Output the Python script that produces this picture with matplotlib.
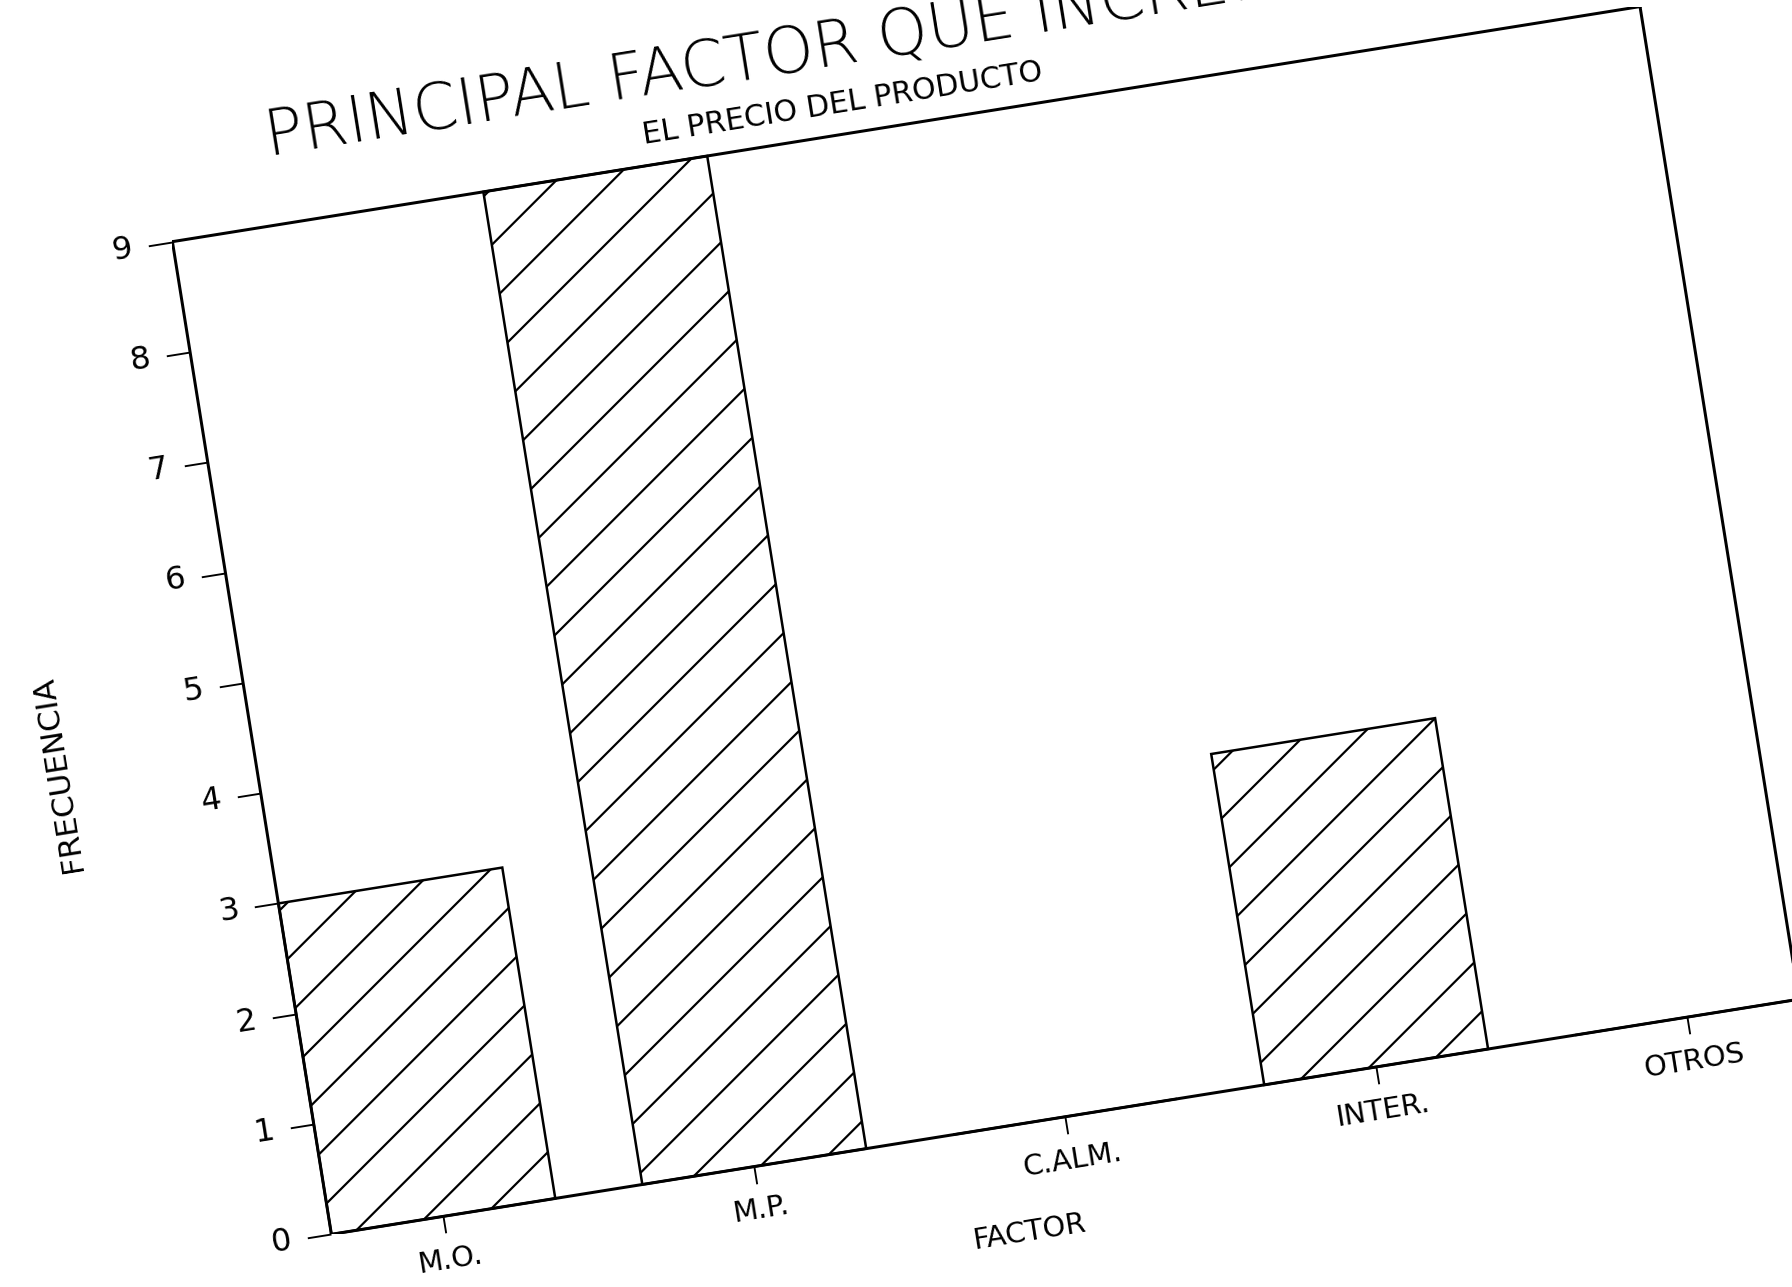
import matplotlib
matplotlib.use("Agg")
import matplotlib.pyplot as plt
from matplotlib.transforms import Affine2D
import mpl_toolkits.axisartist.floating_axes as floating_axes
from mpl_toolkits.axisartist.grid_finder import FixedLocator, DictFormatter

# ---------------- data ----------------
categories = ["M.O.", "M.P.", "C.ALM.", "INTER.", "OTROS"]
frecuencia = [3, 9, 0, 3, 0]
y_ticks = [0, 1, 2, 3, 4, 5, 6, 7, 8, 9]
title = "PRINCIPAL FACTOR QUE INCREMENTA"
subtitle = "EL PRECIO DEL PRODUCTO"
xlabel = "FACTOR"
ylabel = "FRECUENCIA"

# ---------------- geometry (pixels) ----------------
DPI = 170
W, H = 1792, 1287
PT = 72.0 / DPI          # points per pixel

ANGLE = 9.1              # scan rotation (deg, counter-clockwise)
SX, SY = 314.9, 111.7    # pixels per category / per unit
X0, X1 = -0.36, 4.36
Y0, Y1 = 0, 9
ORIGIN = (331.4, 52.7)   # pixel position of (X0, Y0) from bottom-left

plt.rcParams['font.family'] = ['DejaVu Sans']
plt.rcParams['hatch.linewidth'] = 2.2 * PT
plt.rcParams['hatch.color'] = 'black'

fig = plt.figure(figsize=(W / DPI, H / DPI), dpi=DPI)
fig.patch.set_facecolor('white')

tr = Affine2D().scale(SX, SY).rotate_deg(ANGLE)
corners = tr.transform([(X0, Y0), (X1, Y0), (X0, Y1), (X1, Y1)])
xmin, ymin = corners.min(axis=0)
xmax, ymax = corners.max(axis=0)
o = tr.transform([(X0, Y0)])[0]
left_px = ORIGIN[0] - (o[0] - xmin)
bottom_px = ORIGIN[1] - (o[1] - ymin)
rect = [left_px / W, bottom_px / H, (xmax - xmin) / W, (ymax - ymin) / H]

grid_helper = floating_axes.GridHelperCurveLinear(
    tr, extremes=(X0, X1, Y0, Y1),
    grid_locator1=FixedLocator(list(range(len(categories)))),
    tick_formatter1=DictFormatter(dict(enumerate(categories))),
    grid_locator2=FixedLocator(y_ticks),
    tick_formatter2=DictFormatter({v: str(v) for v in y_ticks}))

ax = fig.add_axes(rect, axes_class=floating_axes.FloatingAxes,
                  grid_helper=grid_helper)
ax.set_xlim(xmin, xmax)
ax.set_ylim(ymin, ymax)
ax.set_aspect('auto')
ax.patch.set_facecolor('white')

for name in ["left", "bottom", "top", "right"]:
    ax.axis[name].line.set_linewidth(3.0 * PT)
for name in ["top", "right"]:
    ax.axis[name].major_ticks.set_visible(False)
    ax.axis[name].major_ticklabels.set_visible(False)

for name, size, pad, fsz in [("left", 24, 16, 32), ("bottom", 17, 14, 29)]:
    a = ax.axis[name]
    a.major_ticks.set_tick_out(True)
    a.major_ticks.set_ticksize(size * PT)
    a.major_ticks.set_linewidth(2.0 * PT)
    a.major_ticklabels.set_fontsize(fsz * PT)
    a.major_ticklabels.set_pad(pad * PT)

aux = ax.get_aux_axes(tr)
aux.bar(range(len(categories)), frecuencia, width=0.72,
        facecolor='white', edgecolor='black', linewidth=2.5 * PT, hatch='/')

aux.text(-0.016, 9.62, title, rotation=ANGLE, rotation_mode='anchor',
         ha='left', va='baseline', fontsize=64 * PT, fontweight='light')
aux.text(1.81, 9.2, subtitle, rotation=ANGLE, rotation_mode='anchor',
         ha='center', va='baseline', fontsize=30 * PT)
aux.text(1.83, -0.97, xlabel, rotation=ANGLE, rotation_mode='anchor',
         ha='center', va='center', fontsize=29 * PT)
aux.text(-0.985, 4.46, ylabel, rotation=90 + ANGLE, rotation_mode='anchor',
         ha='center', va='center', fontsize=31 * PT)

fig.savefig("out.png", dpi=DPI, facecolor='white')
